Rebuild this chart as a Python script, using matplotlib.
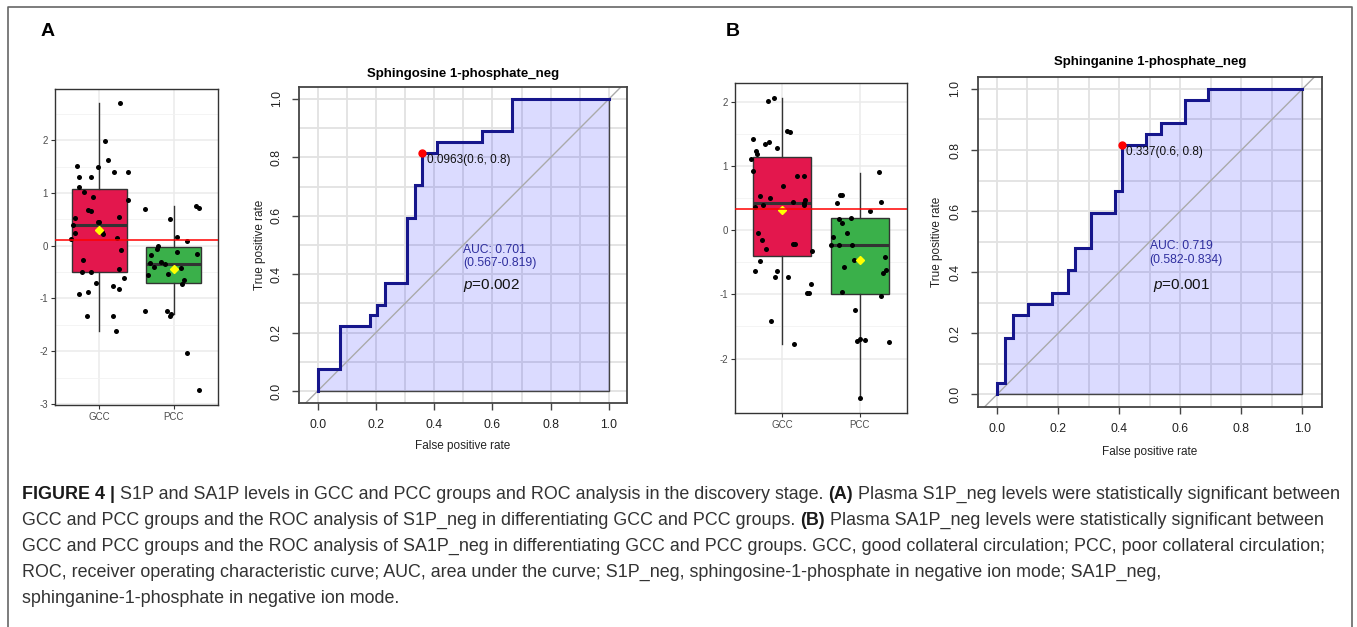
import matplotlib
matplotlib.use('Agg')
import matplotlib.pyplot as plt
from matplotlib.lines import Line2D
import numpy as np

plt.rcParams['font.family'] = ['Liberation Sans', 'DejaVu Sans']
plt.rcParams['mathtext.fontset'] = 'custom'
plt.rcParams['mathtext.it'] = 'Liberation Sans:italic'
plt.rcParams['mathtext.rm'] = 'Liberation Sans'
plt.rcParams['axes.unicode_minus'] = False

# ---------------- data ----------------
groups = ['GCC', 'PCC']

# panel A box plot (S1P_neg, scaled level)
a_gcc = [2.70, 1.98, 1.63, 1.51, 1.49, 1.31, 1.31, 1.40, 1.40, 1.12, 1.02, 0.86, 0.92,
         0.68, 0.65, 0.52, 0.54, 0.45, 0.45, 0.40, 0.24, 0.25, 0.23, 0.13, 0.15, -0.09,
         -0.28, -0.45, -0.49, -0.49, -0.62, -0.70, -0.76, -0.83, -0.87, -0.91, -1.34,
         -1.34, -1.62]
a_pcc = [0.69, 0.50, 0.76, 0.71, 0.17, 0.08, 0.00, -0.06, -0.17, -0.12, -0.15, -0.33,
         -0.31, -0.35, -0.40, -0.42, -0.56, -0.54, -0.66, -0.72, -1.24, -1.24, -1.33,
         -1.30, -2.04, -2.74]
# horizontal jitter of the dots (category units)
a_gcc_jit = [0.28, 0.07, 0.11, -0.30, -0.02, -0.28, -0.12, 0.19, 0.39, -0.27, -0.21, 0.38,
             -0.09, -0.16, -0.12, -0.33, 0.26, -0.02, 0.00, -0.36, -0.33, 0.03, 0.05,
             -0.39, 0.24, 0.29, -0.22, 0.27, -0.23, -0.12, 0.33, -0.04, 0.18, 0.27,
             -0.16, -0.27, -0.17, 0.18, 0.22]
a_pcc_jit = [-0.39, -0.05, 0.30, 0.35, 0.05, 0.18, -0.21, -0.23, -0.30, 0.05, 0.31, -0.32,
             -0.17, -0.12, -0.27, 0.10, -0.34, -0.08, 0.14, 0.12, -0.39, -0.09, -0.05,
             -0.03, 0.18, 0.34]
# q1, median, q3, whisker low, whisker high, mean
a_stats = [(-0.50, 0.40, 1.07, -1.62, 2.70, 0.30),
           (-0.70, -0.35, -0.03, -1.30, 0.75, -0.45)]
a_cutoff = 0.10

# panel B box plot (SA1P_neg)
b_gcc = [2.07, 2.02, 1.55, 1.53, 1.43, 1.38, 1.35, 1.28, 1.24, 1.19, 1.12, 0.92, 0.85,
         0.85, 0.69, 0.53, 0.50, 0.47, 0.44, 0.42, 0.40, 0.39, 0.37, -0.04, -0.15, -0.21,
         -0.21, -0.29, -0.32, -0.48, -0.63, -0.63, -0.72, -0.73, -0.83, -0.97, -0.97,
         -1.41, -1.78]
b_pcc = [0.91, 0.55, 0.55, 0.42, 0.45, 0.30, 0.20, 0.17, 0.11, -0.04, -0.10, -0.23,
         -0.23, -0.23, -0.47, -0.57, -0.42, -0.62, -0.66, -0.96, -1.02, -1.24, -1.72,
         -1.70, -1.71, -1.74, -2.61]
b_gcc_jit = [-0.10, -0.18, 0.07, 0.10, -0.37, -0.16, -0.21, -0.06, -0.33, -0.32, -0.39,
             -0.37, 0.19, 0.29, 0.01, -0.28, -0.15, 0.30, 0.14, 0.29, -0.24, 0.29, -0.35,
             -0.31, -0.26, 0.14, 0.17, -0.20, 0.39, -0.28, -0.34, -0.06, -0.09, 0.08,
             0.37, 0.32, 0.35, -0.14, 0.15]
b_pcc_jit = [0.25, -0.26, -0.23, -0.29, 0.27, 0.13, -0.11, -0.27, -0.23, -0.17, -0.35,
             -0.37, -0.27, -0.10, -0.08, -0.20, 0.32, 0.34, 0.29, -0.23, 0.27, -0.06,
             -0.04, 0.00, 0.07, 0.37, 0.00]
b_stats = [(-0.40, 0.42, 1.15, -1.78, 2.07, 0.32),
           (-0.99, -0.23, 0.19, -2.61, 0.90, -0.47)]
b_cutoff = 0.33

# ROC curves: FPR where each step happens and TPR reached after it
roc_a_fpr = [0.0, 0.077, 0.180, 0.205, 0.231, 0.308, 0.333, 0.359, 0.410, 0.564, 0.667]
roc_a_tpr = [0.074, 0.222, 0.259, 0.296, 0.370, 0.593, 0.704, 0.815, 0.852, 0.889, 1.0]
roc_a_best = (0.359, 0.815)
roc_b_fpr = [0.0, 0.026, 0.051, 0.103, 0.179, 0.231, 0.256, 0.308, 0.385, 0.410, 0.487,
             0.538, 0.615, 0.692]
roc_b_tpr = [0.037, 0.185, 0.259, 0.296, 0.333, 0.407, 0.481, 0.593, 0.667, 0.815, 0.852,
             0.889, 0.963, 1.0]
roc_b_best = (0.410, 0.815)

caption_lines = [
    [("FIGURE 4 |", True), ("S1P and SA1P levels in GCC and PCC groups and ROC analysis in the discovery stage.", False),
     ("(A)", True), ("Plasma S1P_neg levels were statistically significant between", False)],
    [("GCC and PCC groups and the ROC analysis of S1P_neg in differentiating GCC and PCC groups.", False),
     ("(B)", True), ("Plasma SA1P_neg levels were statistically significant between", False)],
    [("GCC and PCC groups and the ROC analysis of SA1P_neg in differentiating GCC and PCC groups. GCC, good collateral circulation; PCC, poor collateral circulation;", False)],
    [("ROC, receiver operating characteristic curve; AUC, area under the curve; S1P_neg, sphingosine-1-phosphate in negative ion mode; SA1P_neg,", False)],
    [("sphinganine-1-phosphate in negative ion mode.", False)],
]

W, H = 1357, 627
fig = plt.figure(figsize=(W / 100, H / 100), dpi=100)


def rect(l, t, r, b):
    return [l / W, 1 - b / H, (r - l) / W, (b - t) / H]


def fxy(x, y):
    return x / W, 1 - y / H


def draw_box(ax, stats, values, jitters, cutoff, ylim, yticks):
    colors = ['#E3174D', '#3AB04A']
    bstats = [dict(q1=s[0], med=s[1], q3=s[2], whislo=s[3], whishi=s[4], fliers=[]) for s in stats]
    bp = ax.bxp(bstats, positions=[1, 2], widths=0.75, patch_artist=True, showcaps=False,
                boxprops=dict(edgecolor='#333333', linewidth=1.0),
                medianprops=dict(color='#333333', linewidth=2.2),
                whiskerprops=dict(color='#333333', linewidth=1.0), zorder=2)
    for patch, c in zip(bp['boxes'], colors):
        patch.set_facecolor(c)
    for i, (vals, jit) in enumerate(zip(values, jitters)):
        ax.scatter(np.array(jit) + i + 1, vals, s=13, color='black', linewidths=0, zorder=3)
    ax.plot([1, 2], [s[5] for s in stats], linestyle='none', marker='D', color='#FFFF00',
            ms=4.5, zorder=4)
    ax.axhline(cutoff, color='red', lw=1.1, zorder=5)
    ax.set_xlim(0.4, 2.6)
    ax.set_ylim(*ylim)
    ax.set_xticks([1, 2])
    ax.set_xticklabels(groups)
    ax.set_yticks(yticks)
    ax.set_yticks([v + 0.5 for v in yticks if v + 0.5 < ylim[1]], minor=True)
    ax.grid(which='major', color='#EBEBEB', lw=1.1)
    ax.grid(which='minor', axis='y', color='#F2F2F2', lw=0.6)
    ax.set_axisbelow(True)
    ax.tick_params(which='major', labelsize=7, labelcolor='#4D4D4D', length=3, width=0.8,
                   color='#333333', pad=2)
    ax.tick_params(which='minor', length=0)
    for sp in ax.spines.values():
        sp.set_color('#333333')
        sp.set_linewidth(1.0)


def draw_roc(ax, fpr, tpr, best, best_txt, best_pos, auc_txt, ci_txt, auc_pos, p_txt, p_pos):
    xs, ys = [0.0], [0.0]
    prev = 0.0
    for f, t in zip(fpr, tpr):
        xs += [f, f]
        ys += [prev, t]
        prev = t
    xs.append(1.0)
    ys.append(1.0)
    for v in np.arange(0, 1.01, 0.1):
        ax.axvline(v, color='#E2E2E2', lw=1.3, zorder=0)
        ax.axhline(v, color='#E2E2E2', lw=1.3, zorder=0)
    ax.fill(xs + [1.0], ys + [0.0], facecolor=(0, 0, 1, 0.14), edgecolor='#444444', lw=1.0, zorder=1)
    ax.axline((0, 0), (1, 1), color='#AAAAAA', lw=1.0, zorder=2)
    ax.plot(xs, ys, color='#16168C', lw=2.2, zorder=3, solid_joinstyle='miter')
    ax.plot(*best, marker='o', color='red', ms=5, zorder=4)
    ax.text(best_pos[0], best_pos[1], best_txt, fontsize=8.5, color='#111111', ha='left', va='center', zorder=5)
    ax.text(auc_pos[0], auc_pos[1], auc_txt, fontsize=8.7, color='#2E2E9E', ha='left', va='center', zorder=5)
    ax.text(auc_pos[0], auc_pos[1] - 0.045, ci_txt, fontsize=8.7, color='#2E2E9E', ha='left', va='center', zorder=5)
    ax.text(p_pos[0], p_pos[1], p_txt, fontsize=11, color='#111111', ha='left', va='center', zorder=5)
    ax.set_xlim(-0.063, 1.063)
    ax.set_ylim(-0.04, 1.04)
    ticks = [0.0, 0.2, 0.4, 0.6, 0.8, 1.0]
    ax.set_xticks(ticks)
    ax.set_yticks(ticks)
    ax.set_xticklabels(['%.1f' % t for t in ticks])
    ax.set_yticklabels(['%.1f' % t for t in ticks])
    ax.tick_params(labelsize=8.7, labelcolor='#222222', length=5, width=1, color='#444444', pad=7)
    ax.tick_params(axis='y', labelrotation=90)
    for lab in ax.get_yticklabels():
        lab.set_va('center')
    for sp in ax.spines.values():
        sp.set_color('#444444')
        sp.set_linewidth(1.3)


# figure-wide layer for frame, panel letters and caption
bg = fig.add_axes([0, 0, 1, 1])
bg.axis('off')
bg.set_xlim(0, 1)
bg.set_ylim(0, 1)
fx0, fy0 = fxy(7.5, 6.5)
fx1, fy1 = fxy(1352, 640)
bg.add_line(Line2D([fx0, fx0, fx1, fx1], [fy1, fy0, fy0, fy1], color='#666666', lw=1.2))
bg.text(*fxy(48, 32), 'A', fontsize=14, fontweight='bold', ha='center', va='center', color='black')
bg.text(*fxy(733, 32), 'B', fontsize=14, fontweight='bold', ha='center', va='center', color='black')

ax1 = fig.add_axes(rect(55, 89, 218, 405))
draw_box(ax1, a_stats, [a_gcc, a_pcc], [a_gcc_jit, a_pcc_jit], a_cutoff, (-3.02, 2.97), [-3, -2, -1, 0, 1, 2])

ax2 = fig.add_axes(rect(299.3, 87.3, 627.3, 402.7))
draw_roc(ax2, roc_a_fpr, roc_a_tpr, roc_a_best, '0.0963(0.6, 0.8)', (0.374, 0.792),
         'AUC: 0.701', '(0.567-0.819)', (0.50, 0.483), r'$p$=0.002', (0.50, 0.363))
bg.text(*fxy(463, 74), 'Sphingosine 1-phosphate_neg', fontsize=9.5, fontweight='bold', ha='center', va='center')
bg.text(*fxy(463, 446), 'False positive rate', fontsize=8.5, color='#222222', ha='center', va='center')
bg.text(*fxy(260, 245), 'True positive rate', fontsize=8.5, color='#222222', ha='center', va='center', rotation=90)

ax3 = fig.add_axes(rect(735, 83, 906.7, 413))
draw_box(ax3, b_stats, [b_gcc, b_pcc], [b_gcc_jit, b_pcc_jit], b_cutoff, (-2.85, 2.30), [-2, -1, 0, 1, 2])

ax4 = fig.add_axes(rect(977.7, 76.7, 1321.7, 406.7))
draw_roc(ax4, roc_b_fpr, roc_b_tpr, roc_b_best, '0.337(0.6, 0.8)', (0.424, 0.793),
         'AUC: 0.719', '(0.582-0.834)', (0.50, 0.486), r'$p$=0.001', (0.511, 0.356))
bg.text(*fxy(1150, 62), 'Sphinganine 1-phosphate_neg', fontsize=9.5, fontweight='bold', ha='center', va='center')
bg.text(*fxy(1150, 452), 'False positive rate', fontsize=8.5, color='#222222', ha='center', va='center')
bg.text(*fxy(937, 242), 'True positive rate', fontsize=8.5, color='#222222', ha='center', va='center', rotation=90)

# caption, one line at a time with bold runs chained after the previous run
cap_size = 12.85
space = 0.278 * cap_size
for i, line in enumerate(caption_lines):
    x, y = fxy(22, 499 + 26 * i)
    prev = None
    for txt, bold in line:
        kw = dict(fontsize=cap_size, fontweight='bold' if bold else 'normal',
                  color='#1A1A1A' if bold else '#333333')
        if prev is None:
            prev = bg.text(x, y, txt, ha='left', va='baseline', **kw)
        else:
            prev = bg.annotate(txt, xy=(1, 0), xycoords=prev, xytext=(space, 0),
                               textcoords='offset points', ha='left', va='bottom', **kw)

fig.savefig('out.png', dpi=100)
